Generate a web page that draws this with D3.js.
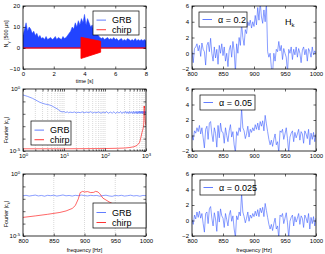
<!DOCTYPE html>
<html lang="en">
<head>
<meta charset="UTF-8" />
<title>GRB vs chirp</title>
<script src="https://cdn.jsdelivr.net/npm/d3@7"></script>
<style>
  body { margin: 0; background: #fff; font-family: 'Liberation Sans', Arial, sans-serif; }
  .tick text { font-size: 6px; font-family: 'Liberation Sans', Arial, sans-serif; fill: #000; }
  .tick line { stroke: #000; stroke-width: 0.6; }
  .lbl { font-size: 5.5px; fill: #000; }
  .leg { font-size: 9px; fill: #000; }
</style>
</head>
<body>
<svg width="325" height="254"></svg>
<script>
// ---- top left: photon counts, 0.1 s bins (envelope of the burst)
const countStep = 0.1;
const grbCounts = [
  6, 9, 12, 8, 10, 9, 7, 8, 6, 7,
  5, 6, 4.5, 5, 4, 5.5, 4, 4.5, 5, 4,
  4.5, 5.5, 4, 5, 4.5, 4, 5.5, 4.5, 5, 6,
  7, 8, 10, 9, 12, 10, 13, 11, 14, 12,
  16, 11, 14, 12, 10, 11, 8, 9, 7, 6,
  5, 4.5, 5, 4, 4.5, 5, 4, 4.5, 4, 5,
  4, 4.5, 3.5, 4, 4.5, 3.5, 4, 3.5, 4.5, 4,
  3.5, 4, 3.5, 4.5, 3.5, 4, 3.5, 4, 3.5, 4,
  3.5
];
const chirpT = [0, 3.77, 3.77, 5.05, 5.05, 8];
const chirpHi = [0, 0, 5.1, 3.2, 0, 0];
const chirpLo = [0, 0, -5.0, -2.0, 0, 0];

// ---- middle left: spectra (log10 of |c_k|)
const grbSpecF = [1, 1.3, 1.7, 2.2, 2.6, 3, 3.5, 4, 4.5, 5, 6, 7, 8, 9, 10, 11, 12, 13, 14, 16,
  18, 20, 22, 25, 28, 31, 35, 40, 45, 50, 55, 60, 70, 80, 90, 100, 110, 120, 135, 150,
  165, 180, 200, 220, 240, 260, 280, 300, 320, 340, 360, 380, 400, 425, 450, 475, 500, 525, 550, 575,
  600, 625, 650, 675, 700, 725, 750, 775, 800, 825, 850, 875, 900, 925, 950, 975, 1000];
const grbSpecV = [-0.48, -0.6, -0.75, -0.95, -1.08, -1.15, -1.22, -1.25, -1.3, -1.35,
  -1.5, -1.62, -1.78, -1.85, -1.82, -1.9, -1.84, -1.92, -1.86, -1.9,
  -1.85, -1.93, -1.87, -1.91, -1.84, -1.92, -1.86, -1.9, -1.83, -1.94,
  -1.87, -1.92, -1.85, -1.95, -1.86, -1.93, -1.82, -1.96, -1.86, -1.95,
  -1.83, -1.97, -1.85, -1.94, -1.82, -1.98, -1.84, -1.95, -1.8, -1.97,
  -1.83, -1.98, -1.81, -1.96, -1.82, -1.99, -1.8, -1.97, -1.82, -1.98,
  -1.8, -1.99, -1.81, -1.97, -1.79, -1.98, -1.8, -1.96, -1.78, -1.99,
  -1.81, -1.97, -1.79, -1.98, -1.8, -1.96, -1.82];
const chirpSpecF = [1, 10, 100, 200, 300, 400, 500, 600, 700, 750, 800, 820, 840, 860, 870, 880, 885, 890,
  893, 897, 900, 905, 910, 915, 918, 922, 925, 930, 940, 950, 960, 980, 1000];
const chirpSpecV = [-4.82, -4.82, -4.8, -4.78, -4.76, -4.72, -4.66, -4.56, -4.3, -3.9, -3.5, -3.38, -3.25, -3.1, -2.98, -2.78, -2.55, -2.0,
  -1.5, -1.4, -1.45, -1.42, -1.5, -1.48, -1.4, -1.45, -1.6, -1.95, -2.25, -2.5, -2.65, -2.8, -2.95];

// ---- bottom left: GRB spectrum near 900 Hz, 5 Hz bins
const zoomF0 = 800, zoomStep = 5;
const grbZoomV = [-1.76, -1.72, -1.78, -1.74, -1.7, -1.77, -1.73, -1.79, -1.72, -1.75,
  -1.71, -1.78, -1.74, -1.69, -1.76, -1.73, -1.78, -1.72, -1.75, -1.7,
  -1.74, -1.77, -1.72, -1.75, -1.73, -1.79, -1.74, -1.71, -1.77, -1.8,
  -1.73, -1.76, -1.72, -1.78, -1.75, -1.71, -1.77, -1.74, -1.79, -1.73,
  -1.75];

// ---- right column: H_k, 2 Hz bins from 800 Hz
const hF0 = 800, hStep = 2;
const alphas = ["0.2", "0.05", "0.025"];
const hA = [0.2, -1.2, 0.6, 0.8, 1.2, 0.3,
  1.0, -0.4, 1.3, 0.5, 0.2,
  -1.5, 1.0, 1.4, 0.2, 1.9,
  0.0, -1.0, 0.8, -0.6, 0.5,
  -1.4, 1.0, 0.0, 1.2, -0.3,
  0.8, -1.0, 0.0, -1.7, 0.4,
  1.0, -0.5, 1.5, 0.3, -2.5,
  1.2, 0.0, 2.0, 1.0, 3.8,
  2.0, 1.0, 3.0, 2.5, 4.0,
  3.5, 4.2, 3.2, 4.0, 3.4,
  4.8, 3.6, 5.8, 4.2, 6.5,
  4.6, 3.8, 5.5, 4.0, 6.5,
  0.2, -0.5, 0.0, -1.8, -2.5,
  0.0, -1.0, 0.5, 0.2, 1.5,
  0.3, 1.0, -0.8, 0.6, 0.0,
  -0.5, -2.5, 0.5, 0.0, 0.8,
  -0.8, 0.5, -0.2, 0.8, -0.5,
  0.6, 0.0, -1.2, 0.4, 0.8,
  -0.2, 0.5, -1.0, 0.6, 0.2,
  -0.5, 0.8, -0.2, 0.3, 0.0];
const hB = [0.0, -0.6, 0.6, 0.3, 1.0, 0.5,
  1.3, 0.2, 1.0, -0.3, -1.6,
  0.8, 1.2, -0.5, 1.6, 1.8,
  0.2, -0.8, 1.0, 0.3, -1.5,
  1.3, -0.3, 1.6, 0.5, 0.4,
  -1.0, 1.0, 0.0, -0.8, 0.6,
  1.4, -0.2, 0.5, -1.2, -2.2,
  0.5, 0.0, 1.0, 0.5, 3.5,
  1.0, 0.6, -0.4, 0.2, 1.2,
  -0.2, 0.8, 0.4, 1.0, 0.6,
  1.4, 0.8, 1.6, 0.7, 1.8,
  1.2, 1.9, 0.6, 2.6, 1.5,
  0.5, -0.5, -1.2, -0.6, -1.4,
  -0.5, 0.2, -1.2, -0.8, -2.2,
  0.6, 0.4, 0.8, -0.5, 0.2,
  1.0, -0.4, -2.2, -0.2, 0.3,
  0.6, -0.8, 0.4, -0.3, 0.2,
  0.8, -0.6, 0.5, 0.2, -1.0,
  0.6, 0.2, -0.4, 0.8, -1.2,
  0.3, -0.5, 0.4, -0.8, 0.2];
const hC = [0.1, -0.5, 0.7, 0.2, 1.1, 0.4,
  1.2, 0.3, 0.9, -0.4, -1.5,
  0.9, 1.1, -0.4, 1.5, 1.8,
  0.3, -0.7, 1.0, 0.2, -1.4,
  1.2, -0.2, 1.5, 0.6, 0.3,
  -0.9, 0.9, 0.1, -0.7, 0.7,
  1.3, -0.1, 0.6, -1.1, -2.2,
  0.6, 0.1, 1.1, 0.6, 3.5,
  1.1, 0.5, -0.3, 0.3, 1.1,
  -0.1, 0.7, 0.3, 0.9, 0.5,
  1.2, 0.6, 1.4, 0.5, 1.6,
  1.0, 1.7, 0.5, 2.2, 1.3,
  0.4, -0.5, -1.1, -0.5, -1.3,
  -0.4, 0.3, -1.1, -0.7, -2.2,
  0.7, 0.5, 0.9, -0.4, 0.3,
  1.0, -0.3, -2.2, -0.1, 0.4,
  0.7, -0.7, 0.5, -0.2, 0.3,
  0.9, -0.5, 0.6, 0.3, -0.9,
  0.7, 0.3, -0.3, 0.9, -1.1,
  0.4, -0.4, 0.5, -0.7, 0.3];

const svg = d3.select("svg");
const LEFT = [23, 146], RIGHT = [192, 316];
const ROWS = [[6, 69], [89, 151], [174, 236]];
const blue = "#2244ff", lineBlue = "#3a5cff", red = "#ff0000";
let clipId = 0;

function panel(xr, yr) {
    const g = svg.append("g");
    const id = "clip" + (clipId++);
    g.append("clipPath").attr("id", id).append("rect")
        .attr("x", xr[0]).attr("y", yr[0])
        .attr("width", xr[1] - xr[0]).attr("height", yr[1] - yr[0]);
    const plot = g.append("g").attr("clip-path", `url(#${id})`);
    return { g, plot };
}

function frame(g, xr, yr) {
    g.append("rect")
        .attr("x", xr[0]).attr("y", yr[0])
        .attr("width", xr[1] - xr[0]).attr("height", yr[1] - yr[0])
        .attr("fill", "none").attr("stroke", "#000").attr("stroke-width", 0.8);
}

// ticks pointing inward on all four sides
function axes(g, x, y, xr, yr, xt, yt, xfmt, yfmt) {
    const sz = -2.5;
    const b = g.append("g").attr("transform", `translate(0,${yr[1]})`)
        .call(d3.axisBottom(x).tickValues(xt).tickSize(sz).tickPadding(3).tickFormat(xfmt));
    const t = g.append("g").attr("transform", `translate(0,${yr[0]})`)
        .call(d3.axisTop(x).tickValues(xt).tickSize(sz).tickFormat(""));
    const l = g.append("g").attr("transform", `translate(${xr[0]},0)`)
        .call(d3.axisLeft(y).tickValues(yt).tickSize(sz).tickPadding(3).tickFormat(yfmt));
    const r = g.append("g").attr("transform", `translate(${xr[1]},0)`)
        .call(d3.axisRight(y).tickValues(yt).tickSize(sz).tickFormat(""));
    [b, t, l, r].forEach(a => a.select(".domain").remove());
    return { b, l };
}

function pow10Label(sel, exps) {
    sel.selectAll("text").each(function (d) {
        const txt = d3.select(this);
        const e = exps(d);
        txt.text(null);
        if (e === null) return;
        txt.append("tspan").text("10");
        txt.append("tspan").attr("dy", "-2.5").style("font-size", "4.2px").text(e);
    });
}

function legend(g, bx, by, bw, bh, items) {
    g.append("rect").attr("x", bx).attr("y", by).attr("width", bw).attr("height", bh)
        .attr("fill", "#fff").attr("stroke", "#000").attr("stroke-width", 0.7);
    items.forEach((it, i) => {
        const cy = by + (items.length === 1 ? bh / 2 : bh * (0.38 + 0.4 * i));
        g.append("line").attr("x1", bx + 3.5).attr("x2", bx + 13)
            .attr("y1", cy).attr("y2", cy).attr("stroke", it.color).attr("stroke-width", 0.8);
        g.append("text").attr("class", "leg").attr("x", bx + it.dx).attr("y", cy + 3.2).text(it.label);
    });
}

function ylabel(parts, cx, cy) {
    const t = svg.append("text").attr("class", "lbl")
        .attr("transform", `translate(${cx},${cy}) rotate(-90)`)
        .attr("text-anchor", "middle");
    parts.forEach(p => {
        const s = t.append("tspan").text(p.t);
        if (p.sub) s.attr("dy", 1.5).style("font-size", "4px");
        if (p.up) s.attr("dy", -1.5);
    });
}

function xlabel(txt, xr, yPos) {
    svg.append("text").attr("class", "lbl").attr("x", (xr[0] + xr[1]) / 2).attr("y", yPos)
        .attr("text-anchor", "middle").text(txt);
}

// ================= top left =================
{
    const xr = LEFT, yr = ROWS[0];
    const x = d3.scaleLinear().domain([0, 8]).range(xr);
    const y = d3.scaleLinear().domain([-10, 20]).range([yr[1], yr[0]]);
    const { g, plot } = panel(xr, yr);

    plot.append("path").datum(grbCounts)
        .attr("fill", blue).attr("stroke", blue).attr("stroke-width", 0.5)
        .attr("d", d3.area().x((d, i) => x(i * countStep)).y0(y(0)).y1(d => y(d)));

    const chirpIdx = d3.range(chirpT.length);
    plot.append("path").datum(chirpIdx)
        .attr("fill", red).attr("stroke", red).attr("stroke-width", 0.8)
        .attr("d", d3.area().x(i => x(chirpT[i])).y0(i => y(chirpLo[i])).y1(i => y(chirpHi[i])));

    frame(g, xr, yr);
    axes(g, x, y, xr, yr, [0, 2, 4, 6, 8], [-10, 0, 10, 20], d3.format("d"), d3.format("d"));
    legend(g, 93, 11, 46, 24, [
        { label: "GRB", color: lineBlue, dx: 19 },
        { label: "chirp", color: red, dx: 19 }
    ]);
    xlabel("time [s]", xr, 83);
    ylabel([{ t: "N" }, { t: "γ", sub: true }, { t: " [500 μs]", up: true }], 8, 34);
}

// ================= middle left =================
{
    const xr = LEFT, yr = ROWS[1];
    const x = d3.scaleLog().domain([1, 1000]).range(xr);
    const y = d3.scaleLog().domain([1e-5, 1]).range([yr[1], yr[0]]);
    const { g, plot } = panel(xr, yr);

    const gridVals = [];
    [1, 10, 100].forEach(dec => d3.range(1, 10).forEach(m => gridVals.push(dec * m)));
    plot.selectAll(".grid").data(gridVals.filter(v => v > 1)).enter().append("line")
        .attr("x1", d => x(d)).attr("x2", d => x(d)).attr("y1", yr[0]).attr("y2", yr[1])
        .attr("stroke", "#888").attr("stroke-width", 0.4).attr("stroke-dasharray", "0.8,1.2");

    const line = d3.line().x(d => x(d[0])).y(d => y(Math.pow(10, d[1])));
    plot.append("path").datum(grbSpecF.map((f, i) => [f, grbSpecV[i]]))
        .attr("fill", "none").attr("stroke", lineBlue).attr("stroke-width", 0.6).attr("d", line);
    plot.append("path").datum(chirpSpecF.map((f, i) => [f, chirpSpecV[i]]))
        .attr("fill", "none").attr("stroke", red).attr("stroke-width", 0.6).attr("d", line);

    frame(g, xr, yr);
    const xTicks = [1].concat(gridVals.slice(1), [1000]);
    const a = axes(g, x, y, xr, yr, xTicks, [1e-5, 1e-4, 1e-3, 1e-2, 1e-1, 1],
        d => d, d => d);
    a.b.selectAll(".tick line").attr("y2", d => [1, 10, 100, 1000].includes(d) ? -2.5 : -1.5);
    pow10Label(a.b, d => ({ 1: "0", 10: "1", 100: "2", 1000: "3" })[d] ?? null);
    pow10Label(a.l, d => d === 1 ? "0" : (Math.abs(d - 1e-5) < 1e-9 ? "-5" : null));
    legend(g, 31, 121, 40, 24, [
        { label: "GRB", color: lineBlue, dx: 19 },
        { label: "chirp", color: red, dx: 19 }
    ]);
    ylabel([{ t: "Fourier |c" }, { t: "k", sub: true }, { t: "|", up: true }], 8, 130);
}

// ================= bottom left =================
{
    const xr = LEFT, yr = ROWS[2];
    const x = d3.scaleLinear().domain([800, 1000]).range(xr);
    const y = d3.scaleLog().domain([1e-5, 1]).range([yr[1], yr[0]]);
    const { g, plot } = panel(xr, yr);

    plot.selectAll(".grid").data([850, 900, 950]).enter().append("line")
        .attr("x1", d => x(d)).attr("x2", d => x(d)).attr("y1", yr[0]).attr("y2", yr[1])
        .attr("stroke", "#888").attr("stroke-width", 0.4).attr("stroke-dasharray", "0.8,1.2");

    const line = d3.line().x(d => x(d[0])).y(d => y(Math.pow(10, d[1])));
    plot.append("path").datum(grbZoomV.map((v, i) => [zoomF0 + i * zoomStep, v]))
        .attr("fill", "none").attr("stroke", lineBlue).attr("stroke-width", 0.6).attr("d", line);
    plot.append("path").datum(chirpSpecF.map((f, i) => [f, chirpSpecV[i]]).filter(d => d[0] >= 800))
        .attr("fill", "none").attr("stroke", red).attr("stroke-width", 0.6).attr("d", line);

    frame(g, xr, yr);
    const a = axes(g, x, y, xr, yr, [800, 850, 900, 950, 1000], [1e-5, 1e-4, 1e-3, 1e-2, 1e-1, 1],
        d3.format("d"), d => d);
    pow10Label(a.l, d => d === 1 ? "0" : (Math.abs(d - 1e-5) < 1e-9 ? "-5" : null));
    legend(g, 93, 203, 53, 25, [
        { label: "GRB", color: lineBlue, dx: 19 },
        { label: "chirp", color: red, dx: 19 }
    ]);
    xlabel("frequency [Hz]", xr, 252);
    ylabel([{ t: "Fourier |c" }, { t: "k", sub: true }, { t: "|", up: true }], 8, 214);
}

// ================= right column =================
[hA, hB, hC].forEach((vals, row) => {
    const xr = RIGHT, yr = ROWS[row];
    const x = d3.scaleLinear().domain([800, 1000]).range(xr);
    const y = d3.scaleLinear().domain([-2, 6]).range([yr[1], yr[0]]);
    const { g, plot } = panel(xr, yr);

    plot.append("path").datum(vals)
        .attr("fill", "none").attr("stroke", lineBlue).attr("stroke-width", 0.6)
        .attr("d", d3.line().x((d, i) => x(hF0 + i * hStep)).y(d => y(d)));

    frame(g, xr, yr);
    axes(g, x, y, xr, yr, [800, 850, 900, 950, 1000], [-2, 0, 2, 4, 6], d3.format("d"), d3.format("d"));
    const bw = row === 0 ? 48 : 55;
    legend(g, 199 + (row === 0 ? 0 : 1), yr[0] + 6, bw, 15, [
        { label: "α = " + alphas[row], color: lineBlue, dx: 19 }
    ]);
    if (row === 0) {
        const t = g.append("text").attr("class", "leg").attr("x", 285).attr("y", 25);
        t.append("tspan").text("H");
        t.append("tspan").attr("dy", 2).style("font-size", "6px").text("k");
    }
    if (row === 2) xlabel("frequency [Hz]", xr, 252);
});
</script>
</body>
</html>
